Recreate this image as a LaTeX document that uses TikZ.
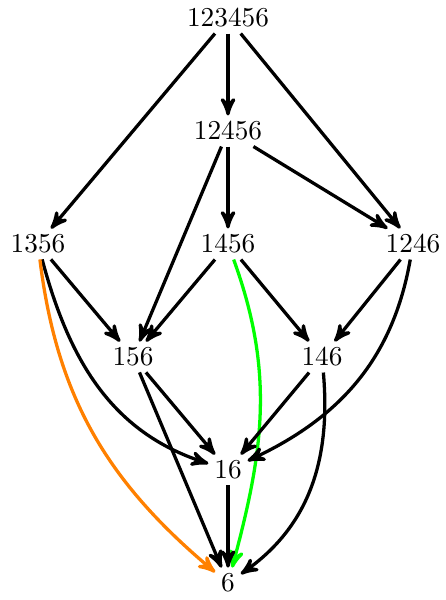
\documentclass[tikz,border=0pt]{standalone}
\usetikzlibrary{arrows}
\definecolor{myorange}{RGB}{255,128,0}
\definecolor{mygreen}{RGB}{0,255,0}
\begin{document}
\begin{tikzpicture}[x=0.012875cm,y=-0.012875cm,
  vtx/.style={inner sep=2pt},
  edge/.style={->,>=stealth',line width=1.2pt}]
\useasboundingbox (0,0) rectangle (446,600);
\node[vtx] (a) at (228,18) {123456};
\node[vtx] (b) at (228,131) {12456};
\node[vtx] (c) at (38,244) {1356};
\node[vtx] (d) at (228,244) {1456};
\node[vtx] (e) at (413,244) {1246};
\node[vtx] (f) at (133,357) {156};
\node[vtx] (g) at (322,357) {146};
\node[vtx] (h) at (228,470) {16};
\node[vtx] (i) at (228,583) {6};
\draw[edge] (a) -- (c);
\draw[edge] (a) -- (b);
\draw[edge] (a) -- (e);
\draw[edge] (b) -- (d);
\draw[edge] (b) -- (e);
\draw[edge] (b) -- (f);
\draw[edge] (c) -- (f);
\draw[edge] (c) to[out=-75,in=162] (h);
\draw[edge,myorange] (c) to[out=-83,in=140] (i);
\draw[edge] (d) -- (f);
\draw[edge] (d) -- (g);
\draw[edge,mygreen] (d) to[out=-70,in=75] (i);
\draw[edge] (e) -- (g);
\draw[edge] (e) to[out=-100,in=25] (h);
\draw[edge] (f) -- (h);
\draw[edge] (f) -- (i);
\draw[edge] (g) -- (h);
\draw[edge] (g) to[out=-85,in=35] (i);
\draw[edge] (h) -- (i);
\end{tikzpicture}
\end{document}
